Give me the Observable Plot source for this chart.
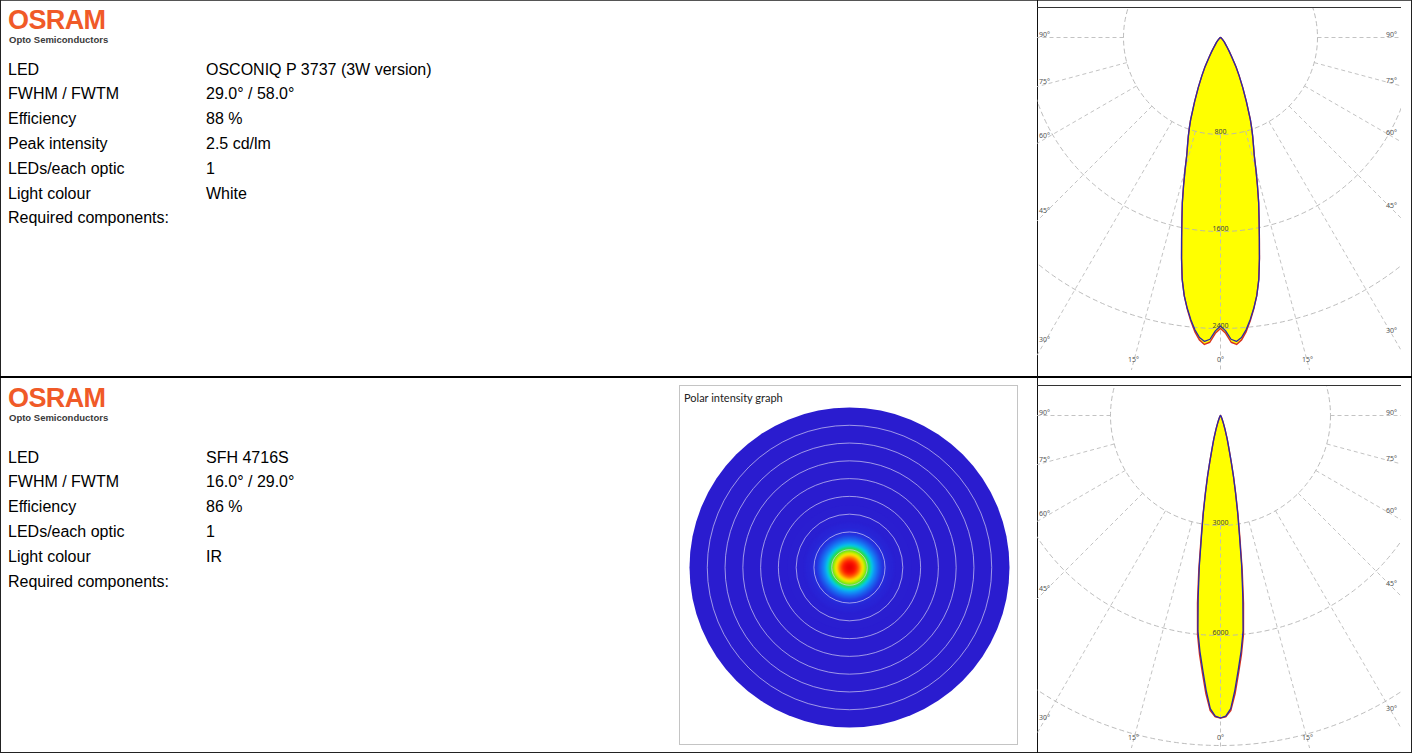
<!DOCTYPE html>
<html><head><meta charset="utf-8">
<script src="https://cdn.jsdelivr.net/npm/d3@7"></script>
<script src="https://cdn.jsdelivr.net/npm/@observablehq/plot@0.6"></script>
<style>
body{margin:0;background:#fff;}
#page{position:relative;width:1412px;height:753px;overflow:hidden;font-family:"Liberation Sans",Arial,sans-serif;color:#000;}
.abs{position:absolute;white-space:nowrap;}
.txt{font-size:16px;line-height:20px;}
.logo{font-weight:bold;font-size:27px;line-height:27px;color:#f05a28;letter-spacing:-0.6px;}
.sub{font-weight:bold;font-size:9.5px;line-height:10px;color:#3a3a3a;}
</style></head><body><div id="page"></div>
<script>
// ---------- data ----------
const labels1 = ["LED","FWHM / FWTM","Efficiency","Peak intensity","LEDs/each optic","Light colour","Required components:"];
const values1 = ["OSCONIQ P 3737 (3W version)","29.0° / 58.0°","88 %","2.5 cd/lm","1","White",""];
const labels2 = ["LED","FWHM / FWTM","Efficiency","LEDs/each optic","Light colour","Required components:"];
const values2 = ["SFH 4716S","16.0° / 29.0°","86 %","1","IR",""];

// polar curve 1 (cd/klm)
const angles1 = [0,1,2,3,4,5,6,7,8,9,10,11,12,13,14,15,16,17,18,19,20,22,24,26,28,30,32,34,36,40,45,50,60,70,80,90];
const c90_1 = [2380,2420,2490,2510,2480,2420,2340,2250,2150,2020,1850,1680,1530,1400,1260,1130,1010,930,860,790,720,570,450,350,270,190,140,100,75,50,25,12,5,2,1,0];
const c0_1  = [2400,2440,2515,2535,2500,2435,2350,2255,2150,2020,1850,1680,1530,1400,1260,1130,1010,930,860,790,720,570,450,350,270,190,140,100,75,50,25,12,5,2,1,0];
const rings1 = [800,1600,2400];

// polar curve 2 (cd/klm)
const angles2 = [0,1,2,3,4,5,6,7,8,9,10,11,12,13,14,15,16,17,18,20,22,25,30,35,40,50,60,70,80,90];
const c90_2 = [8250,8200,8000,7500,6950,6450,5900,5000,4150,3300,2700,2150,1700,1300,1000,800,650,500,400,250,160,90,40,20,10,3,1,0,0,0];
const c0_2  = [8250,8220,8050,7600,7050,6550,6000,5150,4250,3380,2750,2180,1720,1310,1000,800,650,500,400,250,160,90,40,20,10,3,1,0,0,0];
const rings2 = [3000,6000,9000];

const gridAngles = [0,15,30,45,60,75,90];
const heatRings = [10,20,30,40,50,60,70,80];
const heatStops = [0,0.03,0.09,0.16,0.25,0.38,0.5,0.68,0.84,1];
const heatColors = ["#2a1ccf","#2430df","#1580f6","#00d2ea","#22dc3c","#a8ee00","#fff000","#ff8c00","#ff1a00","#e80000"];

// ---------- page helpers ----------
const page = document.getElementById("page");
function div(cls, left, top, text, extra) {
  const d = document.createElement("div");
  d.className = "abs " + (cls || "");
  d.style.left = left + "px"; d.style.top = top + "px";
  if (text != null) d.textContent = text;
  if (extra) Object.assign(d.style, extra);
  page.appendChild(d);
  return d;
}
function line(left, top, w, h, color) { return div("", left, top, null, {width: w + "px", height: h + "px", background: color}); }

// table lines
line(0, 0, 1412, 1, "#555");
line(0, 752, 1412, 1, "#222");
line(0, 0, 1, 753, "#222");
line(1411, 0, 1, 753, "#222");
line(0, 376, 1412, 2, "#000");
line(1037, 0, 1, 753, "#111");

// logos + text blocks
function block(y0, labels, values, baseline0) {
  div("logo", 8, y0 + 6.5, "OSRAM");
  div("sub", 9, y0 + 34.7, "Opto Semiconductors");
  const pitch = 24.8;
  labels.forEach((l, i) => {
    const top = baseline0 + i * pitch - 15.5;
    div("txt", 8, top, l);
    if (values[i]) div("txt", 206, top, values[i]);
  });
}
block(0, labels1, values1, 75);
block(378, labels2, values2, 463);

// ---------- polar plots ----------
function polarChart(angles, blueVals, redVals, rings, k) {
  const width = 364, height = 363, ox = 183, oy = 30;
  const rad = a => a * Math.PI / 180;
  const pt = (a, v) => ({x: v * Math.sin(rad(a)), y: -v * Math.cos(rad(a))});
  const curve = vals => {
    const pts = [];
    for (let i = angles.length - 1; i > 0; i--) pts.push(pt(-angles[i], vals[i]));
    for (let i = 0; i < angles.length; i++) pts.push(pt(angles[i], vals[i]));
    return pts;
  };
  const r1 = rings[0], rMax = 6 * rings[rings.length - 1];
  const spokes = [];
  gridAngles.forEach(a => { spokes.push(a); if (a > 0) spokes.push(-a); });
  const spokeData = spokes.map(a => ({a, p1: pt(a, r1), p2: pt(a, rMax)}));
  const xR = (width - ox - 10) / k, xL = -(ox - 7) / k, yB = -(height - oy - 8) / k;
  const angleLabels = spokes.map(a => {
    if (a === 0) return {x: 0, y: yB, t: "0°", anchor: "middle"};
    const xe = a > 0 ? xR : xL;
    let y = -Math.abs(xe) / Math.tan(rad(Math.abs(a))), x = xe;
    if (y < yB) { y = yB; x = Math.sign(a) * Math.abs(yB) * Math.tan(rad(Math.abs(a))); return {x, y, t: Math.abs(a) + "°", anchor: "middle"}; }
    return {x, y, t: Math.abs(a) + "°", anchor: a > 0 ? "end" : "start"};
  });
  const ringLabels = rings.filter(r => r * k < height - oy - 30);
  return Plot.plot({
    width, height, margin: 0,
    style: {overflow: "hidden"},
    x: {domain: [-ox / k, (width - ox) / k], axis: null},
    y: {domain: [-(height - oy) / k, oy / k], axis: null},
    r: {type: "identity"},
    marks: [
      Plot.line(curve(redVals), {x: "x", y: "y", fill: "#ffff00", stroke: "none"}),
      Plot.link(spokeData, {x1: d => d.p1.x, y1: d => d.p1.y, x2: d => d.p2.x, y2: d => d.p2.y, stroke: "#bcbcbc", strokeWidth: 0.9, strokeDasharray: "4,3", clip: true}),
      Plot.dot(rings, {x: () => 0, y: () => 0, r: d => d * k, stroke: "#b4b4b4", strokeWidth: 0.9, strokeDasharray: "5,3", fill: "none", clip: true}),
      Plot.line(curve(redVals), {x: "x", y: "y", stroke: "#d83020", strokeWidth: 1.4}),
      Plot.line(curve(blueVals), {x: "x", y: "y", stroke: "#2a2aa8", strokeWidth: 1.3}),
      Plot.text(ringLabels, {x: () => 0, y: d => -d, text: d => String(d), dy: -3, fontSize: 7, fill: "#444"}),
      Plot.text(angleLabels, {x: "x", y: "y", text: "t", textAnchor: "anchor", dy: -3, fontSize: 7, fill: "#555"})
    ]
  });
}

function placePolar(top, chart) {
  const c = div("", 1037, top, null, {width: "364px", height: "363px"});
  c.appendChild(chart);
  line(1037, top, 364, 1, "#333");
}
placePolar(7, polarChart(angles1, c90_1, c0_1, rings1, 97 / 800));
placePolar(385, polarChart(angles2, c90_2, c0_2, rings2, 110 / 3000));

// ---------- heat map (polar intensity graph) ----------
(function () {
  const width = 337, height = 358, cx = 169, cy = 181, kh = 160 / 90;
  const peak = d3.max(c90_2);
  const disks = angles2.map((a, i) => ({a, v: c90_2[i] / peak})).sort((p, q) => q.a - p.a);
  const chart = Plot.plot({
    width, height, margin: 0,
    x: {domain: [-cx / kh, (width - cx) / kh], axis: null},
    y: {domain: [-(height - cy) / kh, cy / kh], axis: null},
    r: {type: "identity"},
    color: {type: "linear", domain: heatStops, range: heatColors, interpolate: "rgb"},
    marks: [
      Plot.dot(disks.filter(d => d.a >= 30), {x: () => 0, y: () => 0, r: d => d.a * kh, fill: d => d.v, stroke: "none"}),
      Plot.dot(disks.filter(d => d.a < 30), {x: () => 0, y: () => 0, r: d => d.a * kh, fill: d => d.v, stroke: "none"}),
      Plot.dot(heatRings, {x: () => 0, y: () => 0, r: d => d * kh, stroke: "#d8d4f4", strokeWidth: 0.9, strokeOpacity: 0.75, fill: "none"})
    ]
  });
  const dotGroups = chart.querySelectorAll('g[aria-label="dot"]');
  if (dotGroups[1]) dotGroups[1].style.filter = "blur(1px)";
  const c = div("", 680, 386, null, {width: width + "px", height: height + "px", outline: "1px solid #c4c4c4"});
  c.appendChild(chart);
  div("", 684, 391, "Polar intensity graph", {fontFamily: "Lato, 'DejaVu Sans', sans-serif", fontSize: "11px", color: "#222"});
})();
</script></body></html>
